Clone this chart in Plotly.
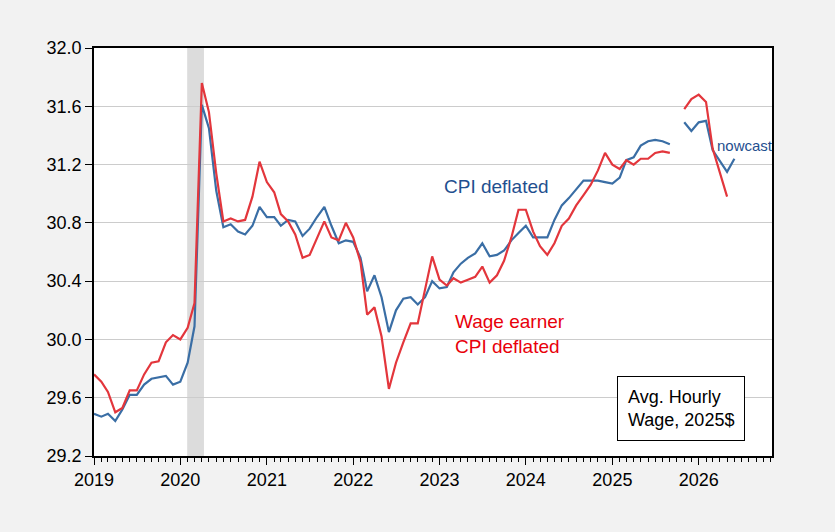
import pandas as pd
import plotly.graph_objects as go

# ---- data (monthly) ----
hist_start = "2019-01-01"
cpi_deflated = [29.49, 29.47, 29.49, 29.44, 29.52, 29.62, 29.62, 29.69, 29.73, 29.74, 29.75, 29.69,
                29.71, 29.84, 30.09, 31.61, 31.45, 31.02, 30.77, 30.79, 30.74, 30.72, 30.78, 30.91,
                30.84, 30.84, 30.78, 30.82, 30.81, 30.71, 30.76, 30.84, 30.91, 30.78, 30.66, 30.68,
                30.67, 30.56, 30.33, 30.44, 30.29, 30.05, 30.20, 30.28, 30.29, 30.24, 30.29, 30.40,
                30.35, 30.36, 30.46, 30.52, 30.56, 30.59, 30.66, 30.57, 30.58, 30.61, 30.68, 30.73,
                30.78, 30.70, 30.70, 30.70, 30.82, 30.92, 30.97, 31.03, 31.09, 31.09, 31.09, 31.08,
                31.07, 31.11, 31.23, 31.25, 31.33, 31.36, 31.37, 31.36, 31.34]
wage_earner = [29.76, 29.71, 29.64, 29.50, 29.53, 29.65, 29.65, 29.76, 29.84, 29.85, 29.98, 30.03,
               30.00, 30.08, 30.25, 31.76, 31.56, 31.14, 30.81, 30.83, 30.81, 30.82, 30.98, 31.22,
               31.08, 31.01, 30.86, 30.81, 30.72, 30.56, 30.58, 30.69, 30.81, 30.70, 30.68, 30.80,
               30.70, 30.53, 30.17, 30.22, 30.02, 29.66, 29.84, 29.98, 30.11, 30.11, 30.34, 30.57,
               30.41, 30.37, 30.42, 30.39, 30.41, 30.43, 30.50, 30.39, 30.44, 30.54, 30.70, 30.89,
               30.89, 30.74, 30.64, 30.58, 30.66, 30.78, 30.83, 30.92, 30.99, 31.06, 31.16, 31.28,
               31.20, 31.17, 31.23, 31.20, 31.24, 31.24, 31.28, 31.29, 31.28]
nowcast_start = "2025-11-01"
cpi_deflated_nowcast = [31.49, 31.43, 31.49, 31.50, 31.30, 31.22, 31.15, 31.24]
wage_earner_nowcast = [31.58, 31.65, 31.68, 31.63, 31.31, 31.14, 30.98]
recession = ("2020-01-30", "2020-04-10")
year_ticks = ["2019", "2020", "2021", "2022", "2023", "2024", "2025", "2026"]

hist_dates = pd.date_range(hist_start, periods=len(cpi_deflated), freq="MS")
nc_blue_dates = pd.date_range(nowcast_start, periods=len(cpi_deflated_nowcast), freq="MS")
nc_red_dates = pd.date_range(nowcast_start, periods=len(wage_earner_nowcast), freq="MS")

BLUE = "#3a6ea5"
RED = "#e3363c"

fig = go.Figure()
fig.add_trace(go.Scatter(x=hist_dates, y=cpi_deflated, mode="lines",
                         line=dict(color=BLUE, width=2.2), showlegend=False))
fig.add_trace(go.Scatter(x=hist_dates, y=wage_earner, mode="lines",
                         line=dict(color=RED, width=2.2), showlegend=False))
fig.add_trace(go.Scatter(x=nc_blue_dates, y=cpi_deflated_nowcast, mode="lines",
                         line=dict(color=BLUE, width=2.2), showlegend=False))
fig.add_trace(go.Scatter(x=nc_red_dates, y=wage_earner_nowcast, mode="lines",
                         line=dict(color=RED, width=2.2), showlegend=False))

fig.add_vrect(x0=recession[0], x1=recession[1], fillcolor="#dcdcdc", line_width=0,
              layer="below")

font_family = "Liberation Sans, Arial, sans-serif"

fig.add_annotation(x="2023-09-01", y=31.05, text="CPI deflated", showarrow=False,
                   xanchor="center", yanchor="middle",
                   font=dict(family=font_family, size=19, color="#1f4f8f"))
fig.add_annotation(x="2023-03-01", y=30.035, text="Wage earner<br>CPI deflated", showarrow=False,
                   xanchor="left", yanchor="middle", align="left",
                   font=dict(family=font_family, size=19, color="#e8000b"))
fig.add_annotation(x="2026-03-13", y=31.33, text="nowcast", showarrow=False,
                   xanchor="left", yanchor="middle",
                   font=dict(family=font_family, size=15, color="#1f4f8f"))
fig.add_annotation(xref="paper", yref="paper", x=0.866, y=0.1176,
                   text="Avg. Hourly<br>Wage, 2025$", showarrow=False,
                   xanchor="center", yanchor="middle", align="left",
                   bordercolor="black", borderwidth=1, borderpad=10, bgcolor="white",
                   font=dict(family=font_family, size=18, color="black"))

fig.update_layout(
    width=835, height=532,
    margin=dict(l=94, r=63, t=48, b=76),
    paper_bgcolor="#f2f2f2", plot_bgcolor="white",
    font=dict(family=font_family, size=18, color="black"),
    xaxis=dict(
        type="date",
        range=["2019-01-01", "2026-11-07"],
        tickmode="array",
        tickvals=[f"{y}-01-01" for y in year_ticks],
        ticktext=year_ticks,
        ticks="outside", ticklen=7, tickwidth=1, tickcolor="black",
        minor=dict(dtick="M1", tick0="2019-01-01", ticks="outside", ticklen=4,
                   tickcolor="black", tickwidth=1, showgrid=False),
        showgrid=False, zeroline=False,
        showline=True, linecolor="black", linewidth=1.5, mirror=True,
        tickfont=dict(size=18),
    ),
    yaxis=dict(
        range=[29.2, 32.0], dtick=0.4, tick0=29.2, tickformat=".1f",
        ticks="outside", ticklen=7, tickcolor="black",
        showgrid=True, gridcolor="#cccccc", gridwidth=1, zeroline=False,
        showline=True, linecolor="black", linewidth=1.5, mirror=True,
        tickfont=dict(size=18),
    ),
)

fig.write_html("out.html")
